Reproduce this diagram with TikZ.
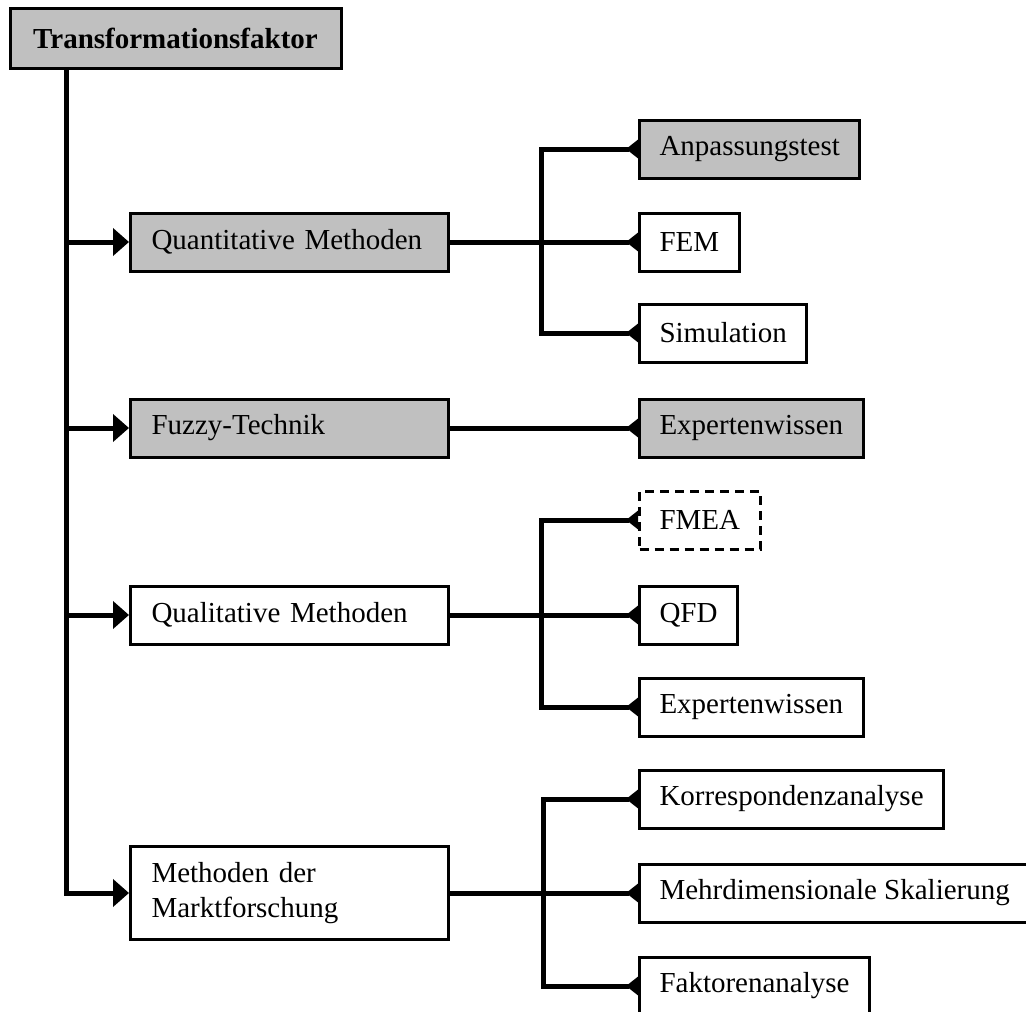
\documentclass[tikz,border=0pt]{standalone}
\usepackage{fontspec}
\setmainfont{Liberation Serif}
\usetikzlibrary{arrows.meta,calc}
\definecolor{boxgray}{RGB}{192,192,192}
\begin{document}
\begin{tikzpicture}[x=1pt,y=-1pt,
  font=\fontsize{29}{35}\selectfont,
  box/.style={draw, line width=3pt, inner xsep=20pt, inner ysep=0pt, minimum height=58pt},
  mainbox/.style={box, anchor=west, minimum width=318pt, text width=276pt, align=left, inner xsep=21pt},
  leaf/.style={box, anchor=west},
  shaded/.style={fill=boxgray},
  conn/.style={line width=5pt},
  feed/.style={conn, -{Triangle[length=16pt,width=27pt]}},
  tap/.style={conn, -{Triangle[reversed,length=12pt,width=18pt]}},
]
\useasboundingbox (0,0) rectangle (1026,1012);
\clip (0,0) rectangle (1026,1012);

% root
\node[box, shaded, font=\fontsize{29}{35}\selectfont\bfseries,
      minimum width=331pt, minimum height=60pt] (root) at (175.5,38) {Transformationsfaktor};

% first level
\node[mainbox, shaded] (quant) at (129,242) {Quantitative Methoden};
\node[mainbox, shaded] (fuzzy) at (129,428) {Fuzzy-Technik};
\node[mainbox] (qual) at (129,615) {Qualitative Methoden};
\node[mainbox, minimum height=93pt] (markt) at (129,893) {Methoden der\\Marktforschung};

% second level
\node[leaf, shaded] (anp) at (638,149) {Anpassungstest};
\node[leaf] (fem) at (638,242) {FEM};
\node[leaf] (sim) at (638,333) {Simulation};
\node[leaf, shaded] (exp1) at (638,428) {Expertenwissen};
\node[leaf, dash pattern=on 9pt off 6pt] (fmea) at (638,520) {FMEA};
\node[leaf] (qfd) at (638,615) {QFD};
\node[leaf] (exp2) at (638,707) {Expertenwissen};
\node[leaf] (korr) at (638,799) {Korrespondenzanalyse};
\node[leaf] (mds) at (638,893) {Mehrdimensionale Skalierung};
\node[leaf] (fak) at (638,986) {Faktorenanalyse};

% trunk and first-level branches
\coordinate (trunk) at ($(root.south west)+(58,0)$);
\draw[feed] (trunk) |- (markt.west);
\draw[feed] (trunk |- quant.west) -- (quant.west);
\draw[feed] (trunk |- fuzzy.west) -- (fuzzy.west);
\draw[feed] (trunk |- qual.west) -- (qual.west);

% junctions
\coordinate (jq) at (541,242);
\coordinate (jl) at (541,615);
\coordinate (jm) at (543,893);

% quantitative branch
\draw[tap] (quant.east) -- (fem.west);
\draw[tap] (jq) |- (anp.west);
\draw[tap] (jq) |- (sim.west);

% fuzzy branch
\draw[tap] (fuzzy.east) -- (exp1.west);

% qualitative branch
\draw[tap] (qual.east) -- (qfd.west);
\draw[tap] (jl) |- (fmea.west);
\draw[tap] (jl) |- (exp2.west);

% market research branch
\draw[tap] (markt.east) -- (mds.west);
\draw[tap] (jm) |- (korr.west);
\draw[tap] (jm) |- (fak.west);
\end{tikzpicture}
\end{document}
